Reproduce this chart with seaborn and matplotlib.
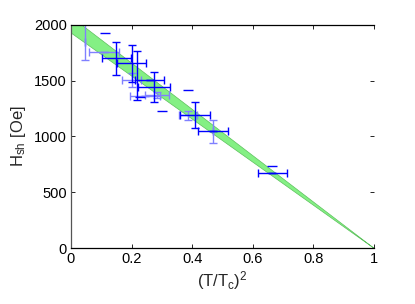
import numpy as np
import matplotlib
matplotlib.use("Agg")
import matplotlib.pyplot as plt
import seaborn as sns

# data
t2_dark = [0.15, 0.20, 0.26, 0.275, 0.41, 0.47, 0.665]
h_dark = [1700, 1655, 1505, 1445, 1190, 1052, 670]
xerr_dark = [0.047, 0.047, 0.047, 0.053, 0.05, 0.05, 0.048]
yerr_dark = [150, 165, 0, 135, 115, 0, 0]

t2_vert = [0.217]
h_vert = [1548]
yerr_vert = [220]

t2_light = [0.046, 0.11, 0.20, 0.245, 0.285, 0.385, 0.47]
h_light = [1850, 1755, 1507, 1365, 1370, 1190, 1046]
xerr_light = [0, 0.05, 0.03, 0.05, 0.04, 0.03, 0]
yerr_light = [165, 0, 60, 0, 25, 40, 100]

t2_dash = [0.112, 0.228, 0.30, 0.387, 0.665]
h_dash = [1930, 1357, 1229, 1414, 735]

# band of the fit H0 (1 - t^2)
h0_low = 1930
h0_high = 2075
x_ticks = [0, 0.2, 0.4, 0.6, 0.8, 1]
x_tick_labels = ["0", "0.2", "0.4", "0.6", "0.8", "1"]
y_ticks = [0, 500, 1000, 1500, 2000]

sns.set_theme(style="white")
plt.rcParams["font.family"] = ["Liberation Sans", "DejaVu Sans"]
plt.rcParams["mathtext.fontset"] = "custom"
plt.rcParams["mathtext.rm"] = "Liberation Sans"
plt.rcParams["mathtext.it"] = "Liberation Sans"

fig = plt.figure(figsize=(4.15, 3.04), dpi=100)
ax = fig.add_axes([0.171, 0.184, 0.730, 0.734])

xs = np.linspace(0, 1, 200)
ax.fill_between(xs, h0_low * (1 - xs), h0_high * (1 - xs),
                color="#84f084", edgecolor="#5cc05c", linewidth=0.5, zorder=1)

ax.errorbar(t2_light, h_light, xerr=xerr_light, yerr=yerr_light, fmt="none",
            ecolor="#8080ff", elinewidth=1.0, capsize=3, capthick=1.0, zorder=2)
ax.errorbar(t2_dark, h_dark, xerr=xerr_dark, yerr=yerr_dark, fmt="none",
            ecolor="#0000ff", elinewidth=1.0, capsize=3, capthick=1.0, zorder=3)
ax.errorbar(t2_vert, h_vert, yerr=yerr_vert, fmt="none",
            ecolor="#0000ff", elinewidth=1.0, capsize=3, capthick=1.0, zorder=3)
sns.scatterplot(x=t2_dash, y=h_dash, marker="_", s=60, color="#0000ff",
                linewidth=1.0, ax=ax, zorder=3)

ax.set_xlim(0, 1)
ax.set_ylim(0, 2000)
ax.set_xticks(x_ticks)
ax.set_xticklabels(x_tick_labels)
ax.set_yticks(y_ticks)
ax.tick_params(direction="in", length=3, width=0.6, labelsize=10.5,
               top=True, right=True, bottom=True, left=True, colors="black",
               pad=3)
for side in ["top", "bottom"]:
    ax.spines[side].set_color("black")
    ax.spines[side].set_linewidth(0.9)
ax.spines["left"].set_color("#555555")
ax.spines["left"].set_linewidth(0.9)
ax.spines["right"].set_visible(False)

ax.set_xlabel(r"$\mathrm{(T/T_c)}^2$", fontsize=12, labelpad=2)
ax.set_ylabel(r"$\mathrm{H_{sh}\ [Oe]}$", fontsize=12, labelpad=4)

fig.savefig("out.png", dpi=100)
